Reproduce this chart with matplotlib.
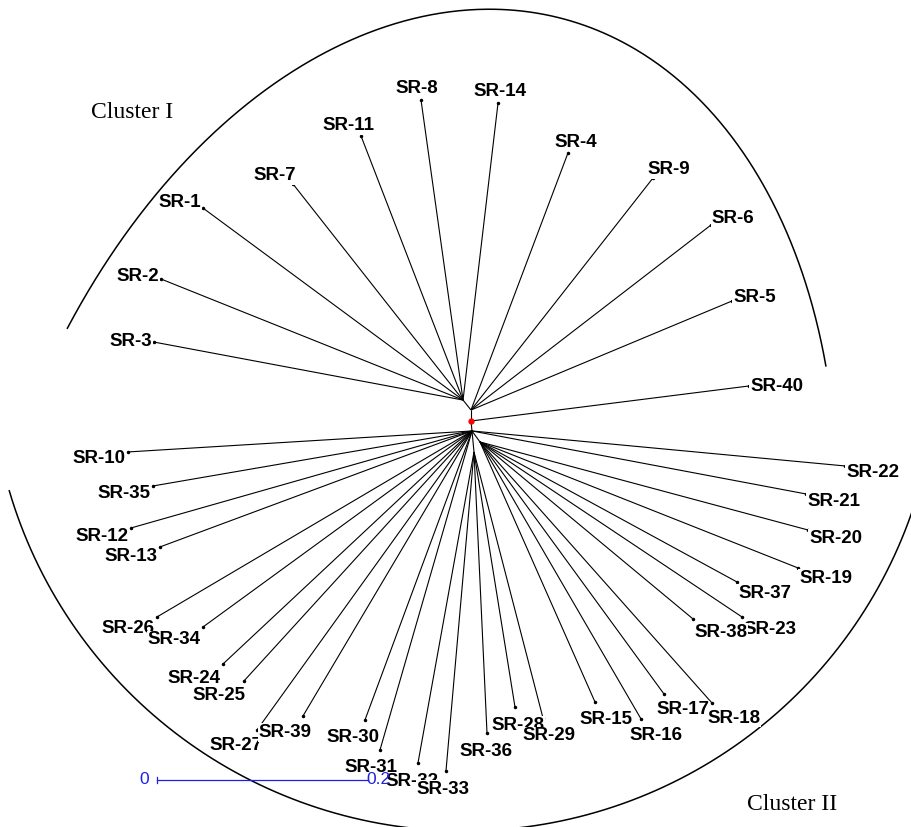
import numpy as np
import matplotlib
matplotlib.use("Agg")
import matplotlib.pyplot as plt
from matplotlib import transforms

# ---- tree data: internal nodes (parent, branch length, branch angle in degrees)
node_names = ["U", "UL", "D", "E", "F"]
node_parents = ["root", "U", "root", "D", "D"]
node_lengths = [0.0104, 0.0121, 0.0095, 0.0129, 0.0200]
node_angles = [90.0, 128.66, -84.29, -53.97, -84.56]

# ---- tips
tip_labels = ["SR-%d" % i for i in range(1, 41)]
tip_parents = ["UL", "UL", "UL", "U", "U", "U", "UL", "UL", "U", "D",
               "UL", "D", "D", "UL", "E", "E", "E", "E", "E", "E",
               "D", "D", "E", "D", "D", "D", "D", "F", "F", "D",
               "D", "F", "F", "D", "D", "F", "E", "E", "D", "root"]
tip_lengths = [0.3063, 0.3083, 0.2980, 0.2604, 0.2681, 0.2872, 0.2606, 0.2871, 0.2795, 0.3267,
               0.2683, 0.3360, 0.3155, 0.2835, 0.2695, 0.3037, 0.2958, 0.3310, 0.3242, 0.3219,
               0.3222, 0.3551, 0.2987, 0.3232, 0.3207, 0.3467, 0.3491, 0.2448, 0.2605, 0.2921,
               0.3147, 0.2995, 0.3035, 0.3155, 0.3068, 0.2666, 0.2774, 0.2625, 0.3141, 0.2656]
tip_angles = [143.56, 158.16, 169.37, 69.33, 22.67, 37.63, 128.20, 97.97, 51.89, -176.51,
              111.12, -164.12, -159.61, 83.28, -66.14, -59.83, -53.87, -48.37, -21.61, -15.02,
              -10.68, -5.36, -33.74, -136.90, -132.37, -149.44, -125.72, -80.87, -75.46, -110.32,
              -106.09, -100.21, -95.02, -143.92, -170.22, -87.35, -28.58, -39.72, -120.67, 7.18]

scale_length = 0.2
cluster_names = ["Cluster I", "Cluster II"]

# ---- figure / coordinate frame (root at origin, 1055 px per unit)
W, H = 911, 827
S = 1055.0
RX, RY = 471.0, 421.0


def px(x, y):
    return (x - RX) / S, (RY - y) / S


fig = plt.figure(figsize=(W / 100, H / 100), dpi=100)
ax = fig.add_axes([0, 0, 1, 1])
ax.set_xlim(px(0, 0)[0], px(W, 0)[0])
ax.set_ylim(px(0, H)[1], px(0, 0)[1])
ax.axis("off")

pos = {"root": np.array([0.0, 0.0])}


def place(name, parent, length, angle):
    a = np.deg2rad(angle)
    p0 = pos[parent]
    p1 = p0 + length * np.array([np.cos(a), np.sin(a)])
    pos[name] = p1
    ax.plot([p0[0], p1[0]], [p0[1], p1[1]], color="black", lw=0.8,
            solid_capstyle="butt", zorder=2)
    return p1


for n, p, l, a in zip(node_names, node_parents, node_lengths, node_angles):
    place(n, p, l, a)

tips = []
for n, p, l, a in zip(tip_labels, tip_parents, tip_lengths, tip_angles):
    tips.append(place(n, p, l, a))
tips = np.array(tips)
ax.plot(tips[:, 0], tips[:, 1], "o", color="black", ms=1.5, zorder=3)
ax.plot(0, 0, "o", color="red", ms=3.5, zorder=4)

# ---- tip labels (horizontal, placed according to branch direction)
renderer = fig.canvas.get_renderer()
for lab, (x, y), a in zip(tip_labels, tips, tip_angles):
    t = ax.text(x, y, lab, ha="left", va="baseline", fontsize=13.5,
                fontweight="bold", family="Liberation Sans", zorder=5,
                bbox=dict(boxstyle="square,pad=0.04", fc="white", ec="none"))
    w = t.get_window_extent(renderer).width
    aa = abs(a)
    if aa <= 40:
        f = 0.0
    elif aa <= 90:
        f = (aa - 40) / 92.0
    elif aa < 135:
        f = 2 * aa / 180.0 - 0.5
    else:
        f = 1.05
    s = np.sin(np.deg2rad(a))
    dy = -14 * s if a > 0 else 3 - 13 * s   # vertical centre offset, px downwards
    ox = -f * w + (1 if f == 0 else 0)
    oy = -(dy + 6.8)
    t.set_transform(transforms.offset_copy(ax.transData, fig=fig, x=ox, y=oy, units="dots"))


# ---- cluster outlines
def conic_arc(points, n=500):
    """Least-squares conic through the guide points, swept from first to last point."""
    p = np.asarray(points, dtype=float)
    m = p.mean(axis=0)
    q = p - m
    X, Y = q[:, 0], q[:, 1]
    M = np.column_stack([X ** 2, X * Y, Y ** 2, X, Y])
    A, B, C, D, E = np.linalg.lstsq(M, np.ones(len(q)), rcond=None)[0]
    c0 = np.linalg.solve([[2 * A, B], [B, 2 * C]], [-D, -E])
    k = 1 - (A * c0[0] ** 2 + B * c0[0] * c0[1] + C * c0[1] ** 2 + D * c0[0] + E * c0[1])
    t0 = np.arctan2(*(q[0] - c0)[::-1])
    t1 = np.arctan2(*(q[-1] - c0)[::-1])
    th = np.linspace(t0, t1, n)
    cs, sn = np.cos(th), np.sin(th)
    r = np.sqrt(k / (A * cs ** 2 + B * cs * sn + C * sn ** 2))
    return np.column_stack([c0[0] + r * cs, c0[1] + r * sn]) + m


upper_guide = [(66, 327), (118, 247), (157, 198), (278, 80), (300, 63), (470, 12),
               (733, 140), (773, 207), (807, 273), (824, 367)]
curve = conic_arc(upper_guide)
d = np.array([px(x, y) for x, y in curve])
ax.plot(d[:, 0], d[:, 1], color="black", lw=1.1, zorder=1)

tt = np.deg2rad(np.linspace(196.4, 341.5, 400))
cx, cy, r = 464, 357, 474
d = np.array([px(cx + r * np.cos(v), cy - r * np.sin(v)) for v in tt])
ax.plot(d[:, 0], d[:, 1], color="black", lw=1.1, zorder=1)

ax.text(*px(91, 113), cluster_names[0], family="Liberation Serif", fontsize=17,
        ha="left", va="center")
ax.text(*px(747, 805), cluster_names[1], family="Liberation Serif", fontsize=17,
        ha="left", va="center")

# ---- scale bar
sx, sy = px(157, 780)
blue = "#1f1fe6"
ax.plot([sx, sx + scale_length], [sy, sy], color=blue, lw=0.9, zorder=6)
ax.plot([sx, sx], [sy - 3 / S, sy + 3 / S], color=blue, lw=0.9, zorder=6)
ax.text(sx - 8 / S, sy, "0", color=blue, fontsize=12.5, family="Liberation Sans",
        ha="right", va="center", zorder=7)
ax.text(sx + scale_length - 2 / S, sy, "0.2", color=blue, fontsize=12.5,
        family="Liberation Sans", ha="left", va="center", zorder=7)

fig.savefig("out.png", dpi=100)
